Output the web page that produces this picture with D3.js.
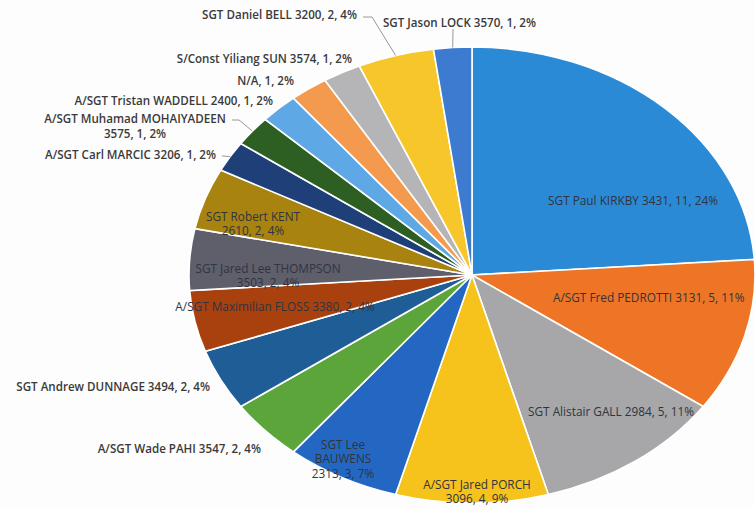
<!DOCTYPE html>
<html><head><meta charset="utf-8">
<script src="https://cdn.jsdelivr.net/npm/d3@7"></script>
<style>
html,body{margin:0;padding:0;background:#fdfdfd;}
svg{display:block;}
text{font-family:"Open Sans","Liberation Sans",sans-serif;}
</style></head>
<body>
<svg id="chart" width="755" height="507"></svg>
<script>
// ---- data ----
const names = [
  "SGT Paul KIRKBY 3431","A/SGT Fred PEDROTTI 3131","SGT Alistair GALL 2984","A/SGT Jared PORCH 3096",
  "SGT Lee BAUWENS 2313","A/SGT Wade PAHI 3547","SGT Andrew DUNNAGE 3494","A/SGT Maximilian FLOSS 3380",
  "SGT Jared Lee THOMPSON 3503","SGT Robert KENT 2610","A/SGT Carl MARCIC 3206","A/SGT Muhamad MOHAIYADEEN 3575",
  "A/SGT Tristan WADDELL 2400","N/A","S/Const Yiliang SUN 3574","SGT Daniel BELL 3200","SGT Jason LOCK 3570"
];
const counts = [11,5,5,4,3,2,2,2,2,2,1,1,1,1,1,2,1];
const percents = ["24%","11%","11%","9%","7%","4%","4%","4%","4%","4%","2%","2%","2%","2%","2%","4%","2%"];
const colors = ["#2b8ad6","#ee7526","#a7a7a9","#f6c21c","#2467c3","#5ba53b","#1f5d97","#a9410f",
  "#5f5e6b","#a8830f","#1e3f78","#2d5e22","#5ea8e6","#f39a4f","#b5b5b7","#f7c62b","#3d7bd0"];

// label layout: text lines, anchor, position relative to pie centre, leader bend points
const labelLayout = [
  {lines:["SGT Paul KIRKBY 3431, 11, 24%"], a:"middle", x:161, y:-74},
  {lines:["A/SGT Fred PEDROTTI 3131, 5, 11%"], a:"start", x:81, y:23},
  {lines:["SGT Alistair GALL 2984, 5, 11%"], a:"middle", x:139, y:137},
  {lines:["A/SGT Jared PORCH","3096, 4, 9%"], a:"middle", x:5, y:217},
  {lines:["SGT Lee","BAUWENS","2313, 3, 7%"], a:"middle", x:-129, y:184},
  {lines:["A/SGT Wade PAHI 3547, 2, 4%"], a:"end", x:-211, y:174},
  {lines:["SGT Andrew DUNNAGE 3494, 2, 4%"], a:"end", x:-262, y:112},
  {lines:["A/SGT Maximilian FLOSS 3380, 2, 4%"], a:"middle", x:-197, y:32},
  {lines:["SGT Jared Lee THOMPSON","3503, 2, 4%"], a:"middle", x:-204, y:1},
  {lines:["SGT Robert KENT","2610, 2, 4%"], a:"middle", x:-219, y:-51},
  {lines:["A/SGT Carl MARCIC 3206, 1, 2%"], a:"end", x:-256, y:-120, leader:[[-250,-119]]},
  {lines:["A/SGT Muhamad MOHAIYADEEN","3575, 1, 2%"], a:"middle", x:-337, y:-149, leader:[[-240,-155],[-233,-155]]},
  {lines:["A/SGT Tristan WADDELL 2400, 1, 2%"], a:"end", x:-199, y:-174},
  {lines:["N/A, 1, 2%"], a:"end", x:-178, y:-194},
  {lines:["S/Const Yiliang SUN 3574, 1, 2%"], a:"end", x:-120, y:-216},
  {lines:["SGT Daniel BELL 3200, 2, 4%"], a:"end", x:-115, y:-260, leader:[[-109,-258],[-100,-258]]},
  {lines:["SGT Jason LOCK 3570, 1, 2%"], a:"start", x:-89, y:-252, leader:[[-19,-246]]}
];
const insideSet = new Set([0,1,2,3,4,7,8,9]);

// ---- geometry ----
const cx = 472, cy = 275, rx = 283, ry = 228;
const svg = d3.select("#chart");

const data = names.map((n,i)=>({name:n, value:counts[i], pct:percents[i], color:colors[i], i}));
const pie = d3.pie().value(d=>d.value).sort(null);
const arcs = pie(data);
const arc = d3.arc().innerRadius(0).outerRadius(rx);

const g = svg.append("g").attr("transform", `translate(${cx},${cy}) scale(1,${ry/rx})`);
g.selectAll("path").data(arcs).join("path")
  .attr("d", arc)
  .attr("fill", d=>d.data.color)
  .attr("stroke", "#ffffff")
  .attr("stroke-width", 1.6)
  .attr("vector-effect","non-scaling-stroke");

function edgePoint(d){
  const t = (d.startAngle + d.endAngle)/2;
  return [rx*Math.sin(t), -ry*Math.cos(t)];
}

const lg = svg.append("g").attr("transform", `translate(${cx},${cy})`);
const lineGen = d3.line();
arcs.forEach((d,i)=>{
  const L = labelLayout[i];
  if (L.leader){
    const pts = L.leader.concat([edgePoint(d)]);
    lg.append("path").attr("d", lineGen(pts))
      .attr("fill","none").attr("stroke","#8c8c8c").attr("stroke-width",0.9);
  }
  const inside = insideSet.has(i);
  const lh = inside ? 14.5 : 15;
  const n = L.lines.length;
  const t = lg.append("text")
    .attr("text-anchor", L.a)
    .attr("font-size", inside ? 11.8 : 11.6)
    .attr("font-weight", inside ? 400 : 600)
    .attr("fill", inside ? "#2f3440" : "#3a3a3a");
  L.lines.forEach((s,k)=>{
    t.append("tspan").attr("x", L.x).attr("y", L.y + (k-(n-1)/2)*lh).attr("dy","0.35em").text(s);
  });
});
</script>
</body></html>
